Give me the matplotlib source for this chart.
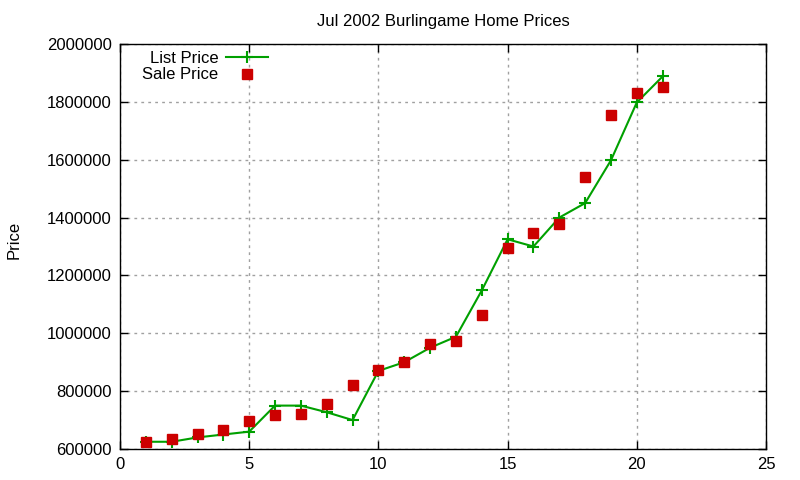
import matplotlib
matplotlib.use("Agg")
import matplotlib.pyplot as plt

# Jul 2002 Burlingame home prices, one entry per sale
house = [1, 2, 3, 4, 5, 6, 7, 8, 9, 10, 11, 12, 13, 14, 15, 16, 17, 18, 19, 20, 21]
list_price = [625000, 625000, 640000, 650000, 660000, 750000, 750000, 727000, 700000,
              870000, 900000, 950000, 988000, 1148000, 1325000, 1300000, 1400000,
              1450000, 1598000, 1798000, 1888000]
sale_price = [625000, 635000, 652000, 665000, 697000, 719000, 722000, 754000, 820000,
              874000, 902000, 963000, 975000, 1064000, 1296000, 1348000, 1378000,
              1539000, 1756000, 1829000, 1853000]
x_ticks = [0, 5, 10, 15, 20, 25]
y_ticks = [600000, 800000, 1000000, 1200000, 1400000, 1600000, 1800000, 2000000]

plt.rcParams["font.family"] = ["Liberation Sans", "DejaVu Sans"]
plt.rcParams["font.size"] = 12

fig = plt.figure(figsize=(8, 4.8), dpi=100)
ax = fig.add_axes([0.15, 0.0646, 0.8075, 0.8437])

ax.plot(house, list_price, "-+", color="#00a000", lw=1.5, ms=9, mew=1.5, label="List Price")
ax.plot(house, sale_price, "s", color="#cc0000", ms=6.5, label="Sale Price")

ax.set_xlim(0, 25)
ax.set_ylim(600000, 2000000)
ax.set_xticks(x_ticks)
ax.set_yticks(y_ticks)
ax.set_yticklabels([str(v) for v in y_ticks])
ax.tick_params(direction="in", top=True, right=True, length=6, width=1, pad=6)
ax.grid(True, color="#a0a0a0", linestyle=(0, (2, 3)), lw=1)
for s in ax.spines.values():
    s.set_linewidth(1)

ax.set_title("Jul 2002 Burlingame Home Prices", fontsize=12, pad=13)
fig.text(0.018, 0.5, "Price", rotation=90, va="center", ha="center", fontsize=12)

ax.legend(loc="upper left", bbox_to_anchor=(0.016, 1.012), frameon=False,
          markerfirst=False, handlelength=2.5, handletextpad=0.5,
          labelspacing=0.1, borderaxespad=0.3, fontsize=12)

fig.savefig("out.png", dpi=100)
